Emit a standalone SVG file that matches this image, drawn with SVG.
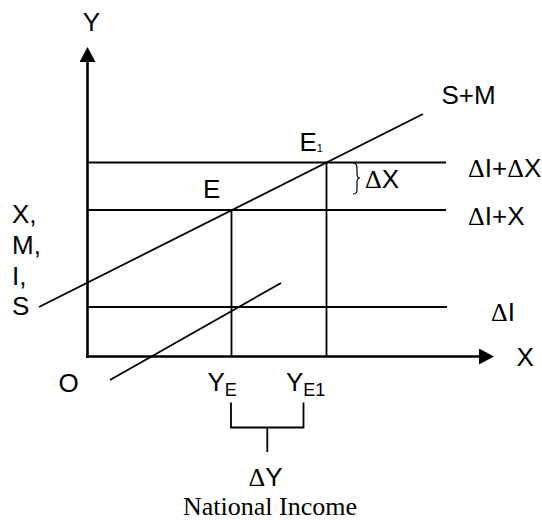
<svg xmlns="http://www.w3.org/2000/svg" width="542" height="520" viewBox="0 0 542 520">
<defs>
<marker id="arr" markerUnits="userSpaceOnUse" markerWidth="16" markerHeight="16" refX="0" refY="8" orient="auto">
<path d="M0,0 L15,8 L0,16 z" fill="#000"/>
</marker>
<style>
text{font-family:"Liberation Sans",Arial,sans-serif;font-size:26px;fill:#000}
.d{font-family:"Liberation Serif","Times New Roman",serif}
.sub{font-size:18px}
.ln{stroke:#000;stroke-width:1.8;fill:none}
.ax{stroke:#000;stroke-width:2.6;fill:none}
.serif{font-family:"Liberation Serif","Times New Roman",serif}
</style>
</defs>
<rect width="542" height="520" fill="#fff"/>
<g id="connectors">
<line class="ax" x1="87.5" y1="358" x2="87.5" y2="62" marker-end="url(#arr)"/>
<line class="ax" x1="86.5" y1="356.5" x2="479" y2="356.5" marker-end="url(#arr)"/>
<line class="ln" x1="87.5" y1="162.5" x2="446" y2="162.5"/>
<line class="ln" x1="87.5" y1="210" x2="446" y2="210"/>
<line class="ln" x1="87.5" y1="307" x2="447" y2="307"/>
<line class="ln" x1="231.5" y1="210" x2="231.5" y2="356.5"/>
<line class="ln" x1="326.5" y1="162.5" x2="326.5" y2="356.5"/>
<line class="ln" x1="39" y1="307" x2="423" y2="114"/>
<line class="ln" x1="110" y1="380" x2="281" y2="283"/>
<path class="ln" d="M231,402.5 V427.5 H303.5 V402.5 M267.3,427.5 V452" stroke-width="2"/>
<path d="M353,163 C357,163 357,166 357,170 L357,174 C357,177 358,178 360,178 C358,178 357,179 357,182 L357,188 C357,192 357,194 353,194" fill="none" stroke="#000" stroke-width="1.2"/>
</g>
<g id="axis-y-label"><text x="91.5" y="31" text-anchor="middle">Y</text></g>
<g id="axis-x-label"><text x="516.5" y="366">X</text></g>
<g id="axis-left-label">
<text x="12" y="223">X,</text>
<text x="12" y="254">M,</text>
<text x="12" y="285">I,</text>
<text x="12" y="315">S</text>
</g>
<g id="origin"><text x="58.5" y="391.5">O</text></g>
<g id="E"><text x="203" y="198">E</text></g>
<g id="E1"><text x="299.5" y="151">E<tspan font-size="11" dy="1.3">1</tspan></text></g>
<g id="SM"><text x="441.5" y="104">S+M</text></g>
<g id="line-dI-dX"><text x="468" y="176.5"><tspan class="d">Δ</tspan>I+<tspan class="d">Δ</tspan>X</text></g>
<g id="line-dI-X"><text x="468" y="225"><tspan class="d">Δ</tspan>I+X</text></g>
<g id="line-dI"><text x="491" y="321"><tspan class="d">Δ</tspan>I</text></g>
<g id="dX"><text x="365" y="187.5"><tspan class="d">Δ</tspan>X</text></g>
<g id="YE"><text x="207.5" y="391">Y<tspan class="sub" dy="5">E</tspan></text></g>
<g id="YE1"><text x="286" y="391">Y<tspan class="sub" dy="5">E1</tspan></text></g>
<g id="dY"><text x="265.5" y="486" text-anchor="middle"><tspan class="d">Δ</tspan>Y</text></g>
<g id="national-income"><text class="serif" x="270" y="515" text-anchor="middle">National Income</text></g>
</svg>
